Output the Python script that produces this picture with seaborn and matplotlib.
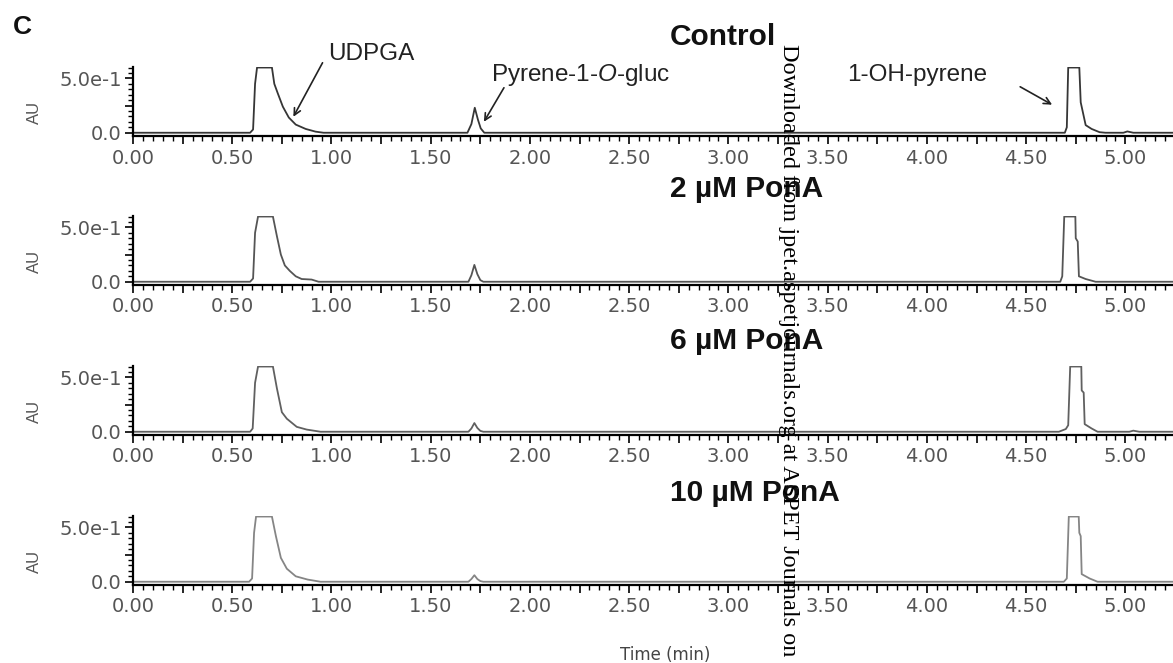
import numpy as np
import matplotlib
matplotlib.use("Agg")
import matplotlib.pyplot as plt
from matplotlib.ticker import MultipleLocator, FuncFormatter
import seaborn as sns

# --- chromatogram traces (time in min, absorbance in AU) ---
t_control = [0.00, 0.590, 0.605, 0.615, 0.625, 0.700, 0.712, 0.730, 0.755, 0.785, 0.820, 0.870, 0.920, 0.960,
             1.685, 1.705, 1.722, 1.738, 1.752, 1.770,
             4.695, 4.705, 4.712, 4.768, 4.775, 4.800, 4.830, 4.870, 4.900,
             4.990, 5.010, 5.040, 5.250]
au_control = [0.0, 0.0, 0.03, 0.45, 0.60, 0.60, 0.45, 0.36, 0.24, 0.14, 0.075, 0.035, 0.01, 0.0,
              0.0, 0.08, 0.23, 0.12, 0.04, 0.0,
              0.0, 0.05, 0.60, 0.60, 0.28, 0.07, 0.035, 0.005, 0.0,
              0.0, 0.012, 0.0, 0.0]

t_pona2 = [0.00, 0.590, 0.605, 0.615, 0.630, 0.705, 0.725, 0.745, 0.765, 0.790, 0.820, 0.850, 0.900, 0.935,
           1.690, 1.705, 1.720, 1.735, 1.750, 1.765,
           4.672, 4.682, 4.692, 4.748, 4.750, 4.760, 4.766, 4.800, 4.850,
           5.250]
au_pona2 = [0.0, 0.0, 0.03, 0.45, 0.60, 0.60, 0.42, 0.25, 0.15, 0.10, 0.05, 0.025, 0.02, 0.0,
            0.0, 0.06, 0.155, 0.07, 0.015, 0.0,
            0.0, 0.05, 0.60, 0.60, 0.40, 0.37, 0.05, 0.025, 0.0,
            0.0]

t_pona6 = [0.00, 0.590, 0.603, 0.615, 0.630, 0.705, 0.725, 0.750, 0.775, 0.825, 0.875, 0.945,
           1.690, 1.705, 1.720, 1.735, 1.750, 1.765,
           4.665, 4.700, 4.712, 4.722, 4.778, 4.780, 4.790, 4.795, 4.830, 4.860,
           5.020, 5.040, 5.070, 5.250]
au_pona6 = [0.0, 0.0, 0.03, 0.45, 0.60, 0.60, 0.40, 0.18, 0.12, 0.045, 0.02, 0.0,
            0.0, 0.03, 0.08, 0.035, 0.008, 0.0,
            0.0, 0.025, 0.06, 0.60, 0.60, 0.38, 0.36, 0.07, 0.03, 0.0,
            0.0, 0.01, 0.0, 0.0]

t_pona10 = [0.00, 0.585, 0.600, 0.610, 0.620, 0.700, 0.720, 0.745, 0.775, 0.820, 0.880, 0.945,
            1.690, 1.705, 1.720, 1.735, 1.750, 1.765,
            4.690, 4.705, 4.715, 4.765, 4.768, 4.775, 4.780, 4.820, 4.860,
            5.250]
au_pona10 = [0.0, 0.0, 0.03, 0.45, 0.60, 0.60, 0.42, 0.22, 0.12, 0.05, 0.02, 0.0,
             0.0, 0.025, 0.06, 0.025, 0.006, 0.0,
             0.0, 0.03, 0.60, 0.60, 0.45, 0.42, 0.07, 0.03, 0.0,
             0.0]

panel_titles = ["Control", "2 µM PonA", "6 µM PonA", "10 µM PonA"]
traces = [(t_control, au_control), (t_pona2, au_pona2), (t_pona6, au_pona6), (t_pona10, au_pona10)]
line_colors = ["#363636", "#555555", "#606060", "#858585"]

sns.set_theme(style="white")
plt.rcParams["font.family"] = ["Liberation Sans", "DejaVu Sans"]
plt.rcParams["mathtext.fontset"] = "custom"
plt.rcParams["mathtext.rm"] = "Liberation Sans"
plt.rcParams["mathtext.it"] = "Liberation Sans:italic"

W, H = 1173, 663
fig = plt.figure(figsize=(W / 100, H / 100), dpi=100)
fig.patch.set_facecolor("white")

tops = [67, 216, 366, 516]
title_y = [37, 189, 341, 493]
ph = 69
left = 133


def xfmt(v, pos):
    return f"{v:.2f}" if abs(v / 0.5 - round(v / 0.5)) < 1e-6 else ""


def yfmt(v, pos):
    if abs(v) < 1e-6:
        return "0.0"
    if abs(v - 0.5) < 1e-6:
        return "5.0e-1"
    return ""


axes = []
for i, ((t, au), title, col) in enumerate(zip(traces, panel_titles, line_colors)):
    top = tops[i]
    ax = fig.add_axes([left / W, 1 - (top + ph) / H, 1 - left / W, ph / H])
    sns.lineplot(x=t, y=au, ax=ax, color=col, linewidth=1.3, estimator=None, sort=False, legend=False)
    ax.set_xlim(0, 5.24)
    ax.set_ylim(-0.03, 0.605)
    ax.set_xlabel("")
    ax.set_ylabel("")
    ax.set_facecolor("white")
    ax.xaxis.set_major_locator(MultipleLocator(0.25))
    ax.xaxis.set_minor_locator(MultipleLocator(0.05))
    ax.yaxis.set_major_locator(MultipleLocator(0.25))
    ax.yaxis.set_minor_locator(MultipleLocator(0.05))
    ax.xaxis.set_major_formatter(FuncFormatter(xfmt))
    ax.yaxis.set_major_formatter(FuncFormatter(yfmt))
    ax.tick_params(which="both", bottom=True, left=True, top=False, right=False, direction="out", color="black")
    ax.tick_params(which="major", length=6, width=1.2)
    ax.tick_params(which="minor", length=3.5, width=1.0)
    ax.tick_params(axis="x", which="major", pad=3, labelsize=14, labelcolor="#555555", labelfontfamily="DejaVu Sans")
    ax.tick_params(axis="y", which="major", pad=2, labelsize=14, labelcolor="#555555", labelfontfamily="DejaVu Sans")
    sns.despine(ax=ax)
    for s in ["left", "bottom"]:
        ax.spines[s].set_linewidth(1.6)
        ax.spines[s].set_color("black")
    fig.text(670 / W, 1 - title_y[i] / H, title, ha="left", va="center", fontsize=21.5, fontweight="bold", color="#111111")
    fig.text(34 / W, 1 - (top + 45) / H, "AU", rotation=90, ha="center", va="center", fontsize=12, color="#555555")
    axes.append(ax)

# peak labels in the control panel
ax0 = axes[0]
arrow = dict(arrowstyle="->", color="#222222", lw=1.2, shrinkA=0, shrinkB=0)
ax0.text(0.985, 0.727, "UDPGA", ha="left", va="center", fontsize=17.5, color="#222222", clip_on=False)
ax0.annotate("", xy=(0.808, 0.147), xytext=(0.955, 0.644), arrowprops=arrow, annotation_clip=False)
ax0.text(1.803, 0.534, "Pyrene-1-$\\mathit{O}$-gluc", ha="left", va="center", fontsize=17.5, color="#222222", clip_on=False)
ax0.annotate("", xy=(1.768, 0.101), xytext=(1.869, 0.414), arrowprops=arrow, annotation_clip=False)
ax0.text(3.596, 0.534, "1-OH-pyrene", ha="left", va="center", fontsize=17.5, color="#222222", clip_on=False)
ax0.annotate("", xy=(4.631, 0.258), xytext=(4.47, 0.423), arrowprops=arrow, annotation_clip=False)

fig.text(13 / W, 1 - 27 / H, "C", ha="left", va="center", fontsize=19, fontweight="bold", color="#111111")
fig.text(665 / W, 1 - 655 / H, "Time (min)", ha="center", va="center", fontsize=12, color="#444444",
         family="DejaVu Sans")

# vertical download watermark
fig.text(788 / W, 1 - 44 / H, "Downloaded from jpet.aspetjournals.org at ASPET Journals on",
         rotation=-90, ha="center", va="top", fontsize=17.5, family="Liberation Serif", color="black")

fig.savefig("out.png", dpi=100, facecolor="white")
